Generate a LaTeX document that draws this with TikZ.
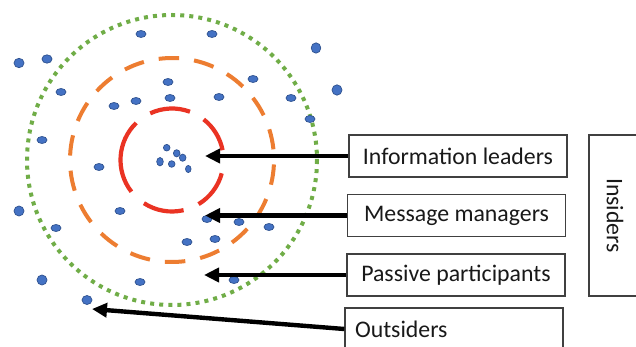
\documentclass[tikz,border=0pt]{standalone}
\usepackage{fontspec}
\setmainfont{Carlito}
\usetikzlibrary{arrows.meta}
\definecolor{dotblue}{RGB}{68,114,196}
\definecolor{dotedge}{RGB}{47,82,143}
\definecolor{ringgreen}{RGB}{112,173,71}
\definecolor{ringorange}{RGB}{237,125,49}
\definecolor{ringred}{RGB}{234,51,35}
\tikzset{
  member/.style={fill=dotblue, draw=dotedge, line width=0.7pt},
  labelbox/.style={draw=black!75, line width=1.3pt, minimum width=218pt,
    minimum height=42pt, inner sep=0pt, text=black!90,
    font=\fontsize{23.8}{28}\selectfont},
  pointer/.style={line width=4.4pt, -{Triangle[length=15pt,width=14pt]}},
  redring/.style={ringred, line width=4.2pt},
  orangering/.style={ringorange, line width=4pt},
  greenring/.style={ringgreen, line width=4pt, dash pattern=on 4pt off 5.1pt},
}
\begin{document}
\begin{tikzpicture}[x=1pt,y=-1pt]
\useasboundingbox (0,0) rectangle (636,347);
\clip (0,0) rectangle (636,347);
\fill[white] (0,0) rectangle (636,347);

\coordinate (c) at (172,160);

% outer dotted ring
\draw[greenring] (c) circle[radius=145];

% middle dashed ring: 18 dashes
\foreach \k in {0,...,17} {
  \pgfmathsetmacro\a{2.5+\k*20}
  \draw[orangering] (c) ++(\a:102) arc[start angle=\a, delta angle=11.5, radius=102];
}

% inner ring: five long dashes
\foreach \s/\e in {-115/-69.6, -52/-11, 15/59, 77/123, 142/226} {
  \draw[redring] (c) ++(\s:51.5) arc[start angle=\s, end angle=\e, radius=51.5];
}

% members
\foreach \x/\y/\rx/\ry in {
  19/63/5/4.7, 47/59/5/4.2, 141/34/5/3.5, 212/34/5/3.5, 316/48/4.8/5.2,
  337/90/5/5.2, 61/92/5/3.5, 168/82/5/3.5, 253/79/5/3.5, 114/106/5/3.5,
  136/101/5/3.5, 170/98/5/3.5, 219/97/5/3.5, 291/98/5/3.5, 310/119/5/3.5,
  42/140/5/3.5, 99/167/5/3.5,
  166.7/147.7/3.3/3.3, 176.7/153.3/3.3/3.6, 182.7/157.7/3.3/3.6,
  160/161.7/3.3/4.2, 171.7/164/3.3/3.3, 188.3/169/2.8/3.6,
  19/211/5/5, 56/228/5/3.5, 120/211/5/3.5, 207/219/5/3.5, 239/222/5/3.5,
  269/227/5/3.5, 187/242/5/3.5, 215/239/5/3.5, 42/280/5/5, 140/282/5/3.5,
  234/280/5/3.5, 87/300/5/4.5} {
  \draw[member] (\x,\y) ellipse[x radius=\rx pt, y radius=\ry pt];
}

% labels
\node[labelbox] (leaders) at (458,156) {Information leaders};
\node[labelbox] (managers) at (456.5,215.5) {Message managers};
\node[labelbox] (passive) at (456,275) {Passive participants};
\node[labelbox, text width=198pt, align=left] (outsiders) at (454,329) {Outsiders};
\node[labelbox, minimum width=161pt, minimum height=52pt, rotate=-90] (insiders) at (615,215.5) {Insiders};

% pointers
\coordinate (tipL) at (205,156);
\coordinate (tipM) at (205,215.5);
\coordinate (tipP) at (204,275);
\coordinate (tipO) at (92,309);
\draw[pointer] (leaders.west) -- (tipL);
\draw[pointer] (managers.west) -- (tipM);
\draw[pointer] (passive.west) -- (tipP);
\draw[pointer] (outsiders.west) -- (tipO);
\end{tikzpicture}
\end{document}
